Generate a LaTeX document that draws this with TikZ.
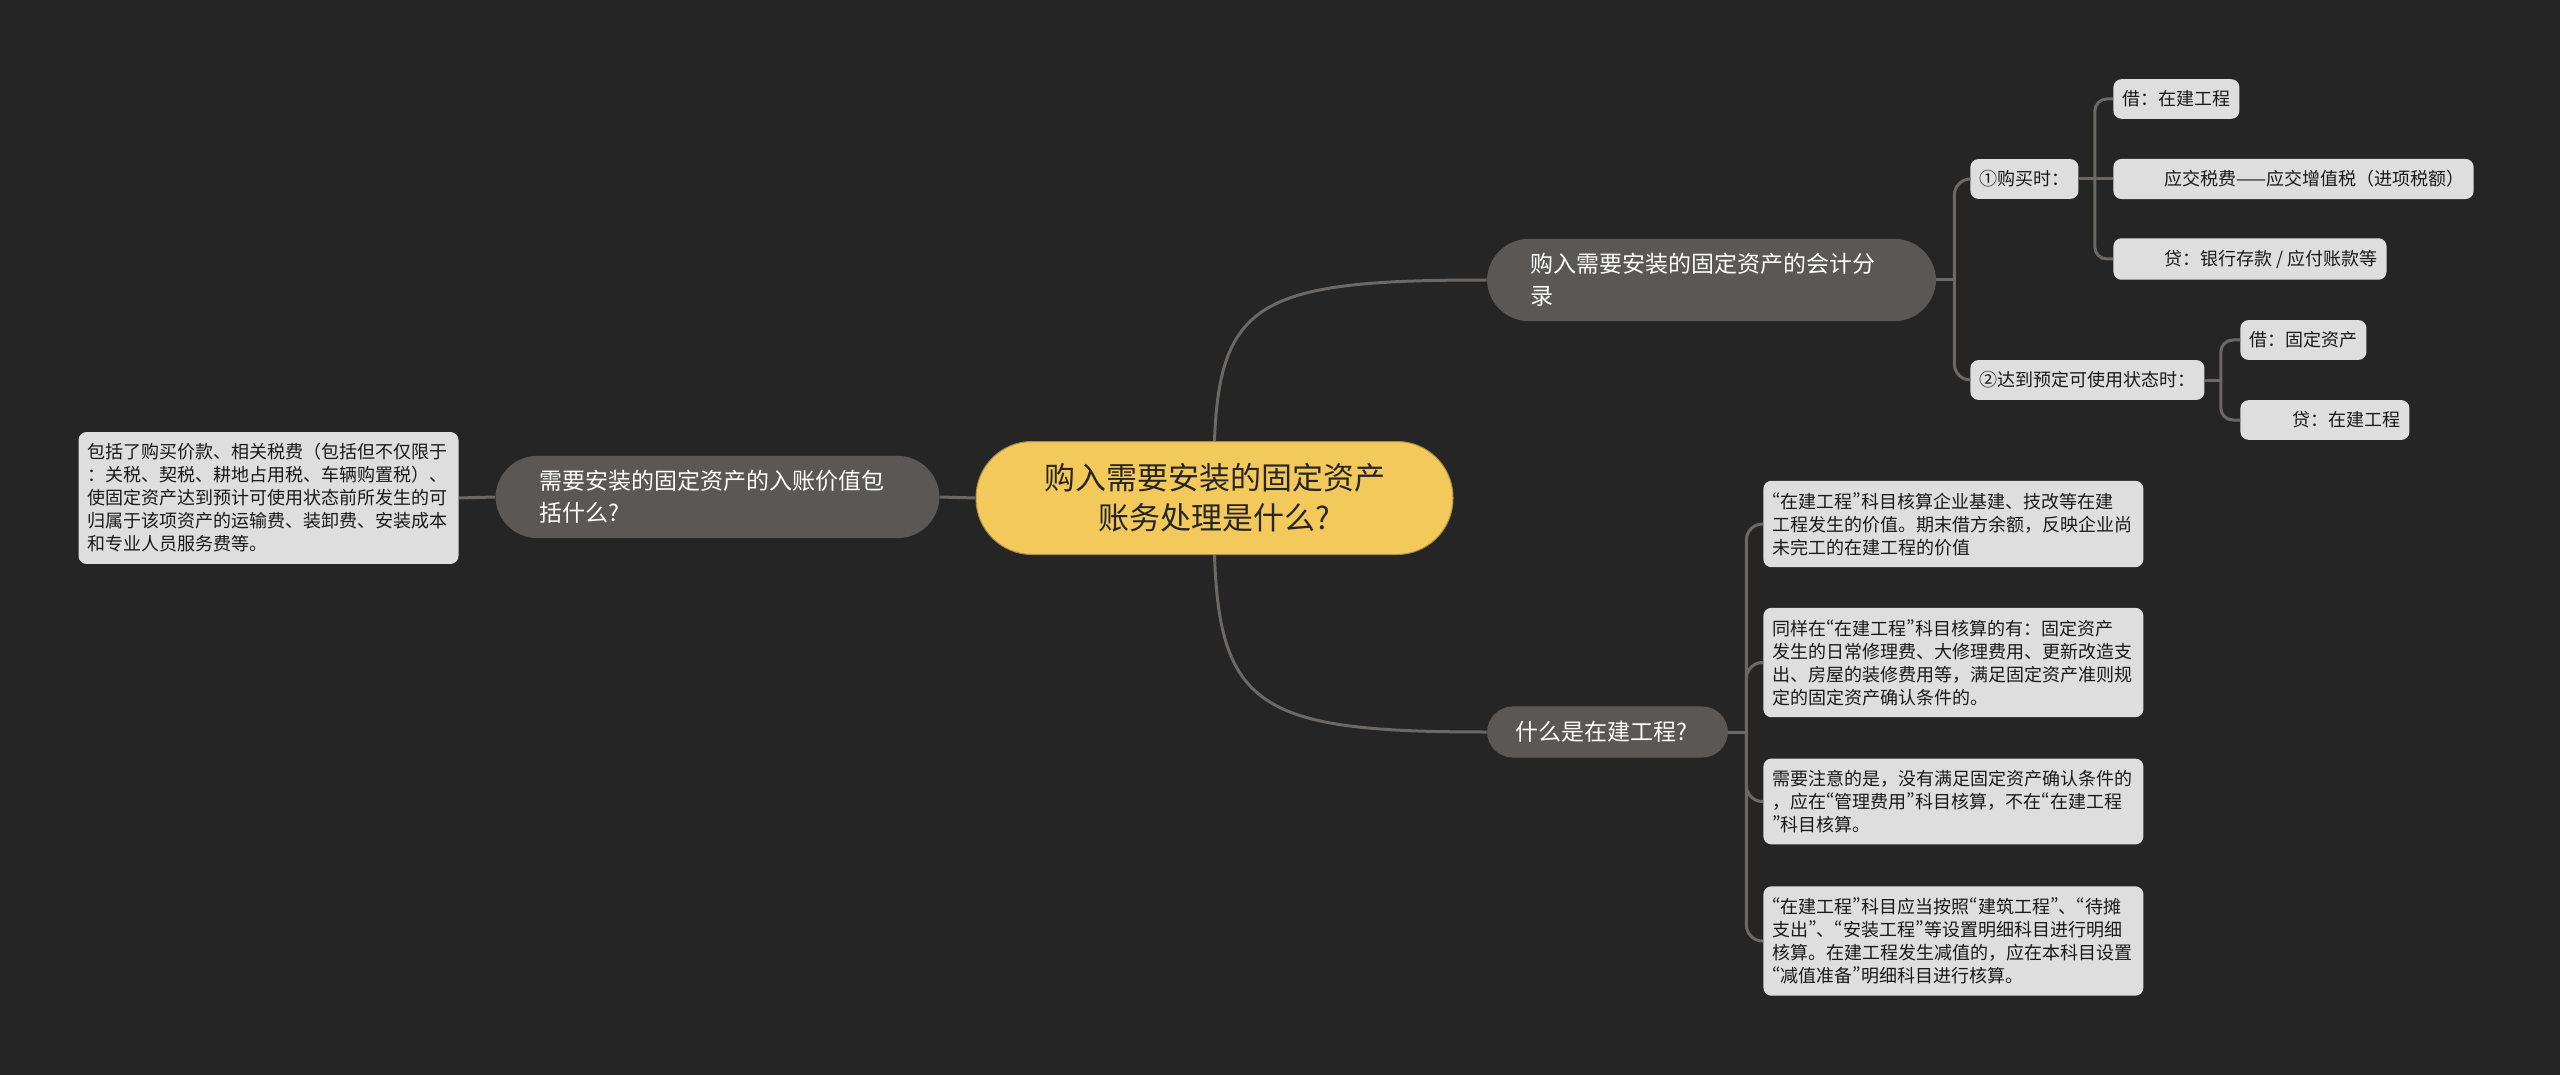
\documentclass[tikz,border=0pt]{standalone}
\usepackage{fontspec}
\setmainfont{Noto Sans CJK SC}
\newfontfamily\pwfont{Noto Sans CJK SC}[RawFeature=+pwid]
\usetikzlibrary{calc}
\definecolor{bgc}{HTML}{252525}
\definecolor{rootc}{HTML}{F3C95B}
\definecolor{midc}{HTML}{5A5755}
\definecolor{leafc}{HTML}{DEDEDE}
\definecolor{linec}{HTML}{6B6866}
\newcommand{\qo}{{\pwfont “}}
\newcommand{\qc}{{\pwfont ”}}

\begin{document}
\begin{tikzpicture}[x=0.5pt, y=-0.5pt,
	   link/.style={draw=linec, line width=1.5pt},
	   rootbox/.style={fill=rootc, draw=rootc!70!black, line width=0.5pt, rounded corners=28pt,
	     minimum width=238.5pt, minimum height=56.5pt, align=center, text=black!85,
	     font=\fontsize{15.5}{20}\selectfont},
	   midbox/.style={fill=midc, text=white, align=left, inner xsep=21.5pt, inner ysep=7.25pt,
	     rounded corners=21pt, font=\fontsize{11.5}{16}\selectfont},
	   leaf/.style={fill=leafc, rounded corners=4pt, inner xsep=4.5pt, inner ysep=5.75pt,
	     text=black!90, align=left, font=\fontsize{9}{11.5}\selectfont},
	   note/.style={leaf, text width=181pt}]
	  \fill[bgc] (0,0) rectangle (2560,1075);
	  % centre and the left branch
	  \node[rootbox] (root) at (1214.5,498) {购入需要安装的固定资产\\账务处理是什么?};
	  \node[midbox, text width=178pt, inner xsep=22pt] (lmid) at (717.5,497) {需要安装的固定资产的入账价值包\\括什么?};
	  \node[note] (lnote) at (268.5,498) {包括了购买价款、相关税费（包括但不仅限于\\：关税、契税、耕地占用税、车辆购置税）、\\使固定资产达到预计可使用状态前所发生的可\\归属于该项资产的运输费、装卸费、安装成本\\和专业人员服务费等。};
	  \draw[link] (root.west) -- (lmid.east);
	  \draw[link] (lmid.west) -- (lnote.east);
	  % right branches
	  \node[midbox, text width=181.5pt] (r1) at (1711.5,280) {购入需要安装的固定资产的会计分\\录};
	  \node[midbox, text width=92.5pt, inner xsep=14pt, inner ysep=7.5pt, rounded corners=13pt] (r2) at (1607.5,732) {什么是在建工程?};
	  \draw[link] (root.north) .. controls +(5,-142) and +(-222,0) .. (r1.west);
	  \draw[link] (root.south) .. controls +(5,155) and +(-222,0) .. (r2.west);
	  % journal entries
	  \node[leaf, anchor=west] (c1) at (1970,179) {①购买时：};
	  \node[leaf, anchor=west] (c2) at (1970,380) {②达到预定可使用状态时：};
	  \node[leaf, anchor=west] (k1) at (2113,99) {借：在建工程};
	  \node[leaf, anchor=west] (k2) at (2113,179) {\hspace*{21pt}应交税费——应交增值税（进项税额）};
	  \node[leaf, anchor=west] (k3) at (2113,259) {\hspace*{21pt}贷：银行存款 / 应付账款等};
	  \node[leaf, anchor=west] (m1) at (2240,340) {借：固定资产};
	  \node[leaf, anchor=west] (m2) at (2240,420) {\hspace*{21.5pt}贷：在建工程};
	  \coordinate (j1) at ($(r1.east)+(18,0)$);
	  \coordinate (j3) at ($(c1.east)+(16,0)$);
	  \coordinate (j4) at ($(c2.east)+(16,0)$);
	  \draw[link] (r1.east) -- (j1);
	  \foreach \n in {c1,c2} \draw[link, rounded corners=8pt] (j1) |- (\n.west);
	  \draw[link] (c1.east) -- (k2.west);
	  \foreach \n in {k1,k3} \draw[link, rounded corners=6pt] (j3) |- (\n.west);
	  \draw[link] (c2.east) -- (j4);
	  \foreach \n in {m1,m2} \draw[link, rounded corners=6pt] (j4) |- (\n.west);
	  % notes on construction in progress
	  \node[note, anchor=west] (n1) at (1763,524) {\qo 在建工程\qc 科目核算企业基建、技改等在建\\工程发生的价值。期末借方余额，反映企业尚\\未完工的在建工程的价值};
	  \node[note, anchor=west] (n2) at (1763,662.5) {同样在\qo 在建工程\qc 科目核算的有：固定资产\\发生的日常修理费、大修理费用、更新改造支\\出、房屋的装修费用等，满足固定资产准则规\\定的固定资产确认条件的。};
	  \node[note, anchor=west] (n3) at (1763,801.5) {需要注意的是，没有满足固定资产确认条件的\\，应在\qo 管理费用\qc 科目核算，不在\qo 在建工程\\\qc 科目核算。};
	  \node[note, anchor=west] (n4) at (1763,941) {\qo 在建工程\qc 科目应当按照\qo 建筑工程\qc 、\qo 待摊\\支出\qc 、\qo 安装工程\qc 等设置明细科目进行明细\\核算。在建工程发生减值的，应在本科目设置\\\qo 减值准备\qc 明细科目进行核算。};
	  \coordinate (j2) at ($(r2.east)+(18,0)$);
	  \draw[link] (r2.east) -- (j2);
	  \foreach \n in {n1,n2,n3,n4} \draw[link, rounded corners=8pt] (j2) |- (\n.west);
	\end{tikzpicture}
\end{document}
